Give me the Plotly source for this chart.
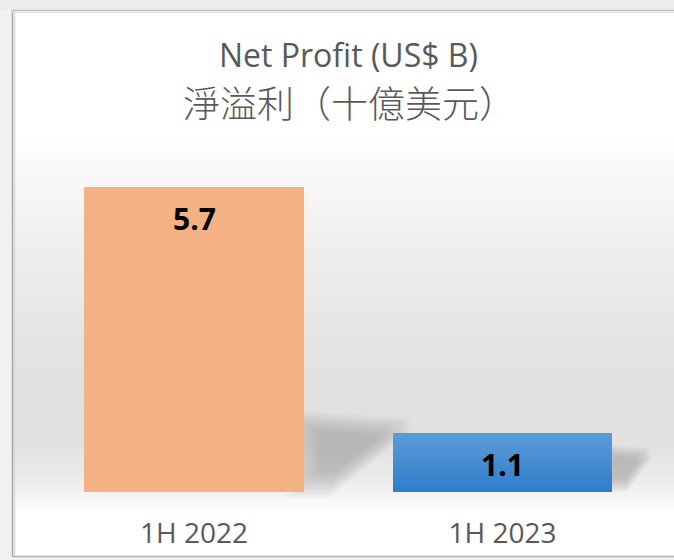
import plotly.graph_objects as go

# ---- data ----
categories = ["1H 2022", "1H 2023"]
values = [5.7, 1.1]
value_labels = ["5.7", "1.1"]
title_en = "Net Profit (US$ B)"
title_zh = "淨溢利（十億美元）"

# ---- style ----
W_FIG, H_FIG = 674, 560
L, R, T, B = 14, 0, 135, 48
PW, PH = W_FIG - L - R, H_FIG - T - B
ORANGE = "#F4B183"
BLUE_TOP = (91, 155, 213)
BLUE_BOT = (47, 126, 204)
GRAY_TXT = "#595959"
Y_RANGE = [-0.374, 6.673]
X_RANGE = [-0.5835, 1.5559]
BAR_W = 0.713


def px2x(px):
    return (px - L) / PW


def py2y(py):
    return (T + PH - py) / PH


def rgb(c):
    return "rgb(%d,%d,%d)" % tuple(int(round(v)) for v in c)


fig = go.Figure()

# gradient bars (segments stacked from the data values)
N = 30
for i in range(N):
    f = (i + 0.5) / N  # 0 bottom -> 1 top
    blue = [BLUE_BOT[k] + (BLUE_TOP[k] - BLUE_BOT[k]) * f for k in range(3)]
    fig.add_trace(go.Bar(
        x=categories,
        y=[v / N * (1.0 if i == N - 1 else 1.05) for v in values],
        base=[v * i / N for v in values],
        width=BAR_W,
        marker=dict(color=[ORANGE, rgb(blue)], line=dict(width=0)),
        hoverinfo="skip",
        showlegend=False,
    ))

shapes = []
# background vertical gradient in plot area
stops = [(135, 255), (160, 250), (250, 238), (330, 229), (400, 224), (445, 226),
         (475, 234), (495, 244), (505, 250), (512, 253)]
for py in range(135, 512):
    for j in range(len(stops) - 1):
        if stops[j][0] <= py <= stops[j + 1][0]:
            a, b = stops[j], stops[j + 1]
            g = a[1] + (b[1] - a[1]) * (py - a[0]) / (b[0] - a[0])
            break
    shapes.append(dict(type="rect", xref="paper", yref="paper",
                       x0=px2x(12), x1=px2x(676), y0=py2y(py + 1.2), y1=py2y(py),
                       fillcolor=rgb((g, g, g)), line=dict(width=0), layer="below"))

# soft cast shadows to the right of the bars (offsets in px from bar right edge / base)
xs_unit = PW / (X_RANGE[1] - X_RANGE[0])
ys_unit = PH / (Y_RANGE[1] - Y_RANGE[0])
shadow_polys = [
    [(-10, 77), (96, 70), (100, 60), (26, 0), (-10, 0)],
    [(-10, 45), (33, 42), (36, 33), (14, 3), (-10, 3)],
]
for i, v in enumerate(values):
    xr = i + BAR_W / 2
    poly = shadow_polys[i]
    cx = sum(p[0] for p in poly) / len(poly)
    cy = sum(p[1] for p in poly) / len(poly)
    K = 10
    for k in range(K):
        s = 1.15 - 0.07 * k
        pts = [(xr + (cx + (px - cx) * s) / xs_unit, (cy + (py - cy) * s) / ys_unit)
               for px, py in poly]
        path = "M " + " L ".join("%f,%f" % p for p in pts) + " Z"
        shapes.append(dict(type="path", xref="x", yref="y", path=path,
                           fillcolor="rgb(110,110,110)", opacity=0.045,
                           line=dict(width=0), layer="below"))

# outer frame region (outside chart)
shapes.append(dict(type="rect", xref="paper", yref="paper",
                   x0=px2x(0), x1=px2x(12), y0=py2y(560), y1=py2y(0),
                   fillcolor="#f1f1f1", line=dict(width=0), layer="below"))
shapes.append(dict(type="rect", xref="paper", yref="paper",
                   x0=px2x(0), x1=px2x(676), y0=py2y(10), y1=py2y(0),
                   fillcolor="#eeeeee", line=dict(width=0), layer="below"))
shapes.append(dict(type="rect", xref="paper", yref="paper",
                   x0=px2x(0), x1=px2x(676), y0=py2y(560), y1=py2y(557),
                   fillcolor="#f1f1f1", line=dict(width=0), layer="below"))
# frame lines
for (x0, y0, x1, y1, c, w) in [
    (12.5, 10, 12.5, 557, "#a6a6a6", 1.5), (14.5, 11, 14.5, 556, "#d9d9d9", 1.5),
    (12, 10.5, 676, 10.5, "#bfbfbf", 1.5), (12, 12.5, 676, 12.5, "#e0e0e0", 1),
    (12, 556.5, 676, 556.5, "#b0b0b0", 1.5)]:
    shapes.append(dict(type="line", xref="paper", yref="paper",
                       x0=px2x(x0), x1=px2x(x1), y0=py2y(y0), y1=py2y(y1),
                       line=dict(color=c, width=w), layer="above"))

annotations = []
for c, v, t in zip(categories, values, value_labels):
    annotations.append(dict(x=c, y=v, xref="x", yref="y", text="<b>%s</b>" % t,
                            showarrow=False, yanchor="middle", yshift=-31,
                            font=dict(family="Open Sans, sans-serif", size=30, color="black")))
annotations.append(dict(x=px2x(348), y=py2y(55), xref="paper", yref="paper",
                        text=title_en, showarrow=False, yanchor="middle",
                        font=dict(family="Open Sans, sans-serif", size=32, color=GRAY_TXT)))
annotations.append(dict(x=px2x(350), y=py2y(102), xref="paper", yref="paper",
                        text=title_zh, showarrow=False, yanchor="middle",
                        font=dict(family="Noto Sans CJK TC, sans-serif", size=37,
                                  color=GRAY_TXT, weight=300)))

fig.update_layout(
    width=W_FIG, height=H_FIG,
    margin=dict(l=L, r=R, t=T, b=B, pad=0),
    paper_bgcolor="white", plot_bgcolor="rgba(0,0,0,0)",
    barmode="overlay", bargap=0,
    shapes=shapes, annotations=annotations,
    xaxis=dict(type="category", range=X_RANGE, showgrid=False, zeroline=False,
               showline=False, ticks="", ticklabelstandoff=2,
               tickfont=dict(family="Open Sans, sans-serif", size=28, color=GRAY_TXT)),
    yaxis=dict(range=Y_RANGE, visible=False, showgrid=False, zeroline=False),
    showlegend=False,
)

fig.write_html("out.html", config={"displayModeBar": False},
               post_script="document.body.style.margin='0';document.body.style.overflow='hidden';")
